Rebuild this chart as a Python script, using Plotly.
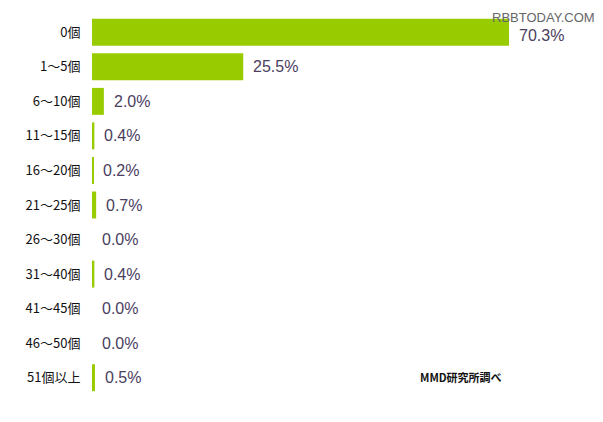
import plotly.graph_objects as go

categories = ["0個", "1～5個", "6～10個", "11～15個", "16～20個", "21～25個",
              "26～30個", "31～40個", "41～45個", "46～50個", "51個以上"]
values = [70.3, 25.5, 2.0, 0.4, 0.2, 0.7, 0.0, 0.4, 0.0, 0.0, 0.5]
value_labels = [f"{v:.1f}%" for v in values]

bar_color = "#99cc00"
label_color = "#4a4060"

OFF = 8  # default page body margin
W, H = 603 - OFF, 422 - OFF
plot_left, plot_right, plot_top, plot_bottom = 92, 593, 15, 395
L, R = plot_left - OFF, W - (plot_right - OFF)
T, B = plot_top - OFF, H - (plot_bottom - OFF)
pw, ph = plot_right - plot_left, plot_bottom - plot_top


def px(x):
    return (x - plot_left) / pw


def py(y):
    return (plot_bottom - y) / ph


fig = go.Figure()
fig.add_trace(go.Bar(
    y=categories, x=values, orientation="h",
    marker=dict(color=bar_color, line=dict(width=0)),
    width=0.78, showlegend=False, hoverinfo="skip",
))

for i, (c, v, t) in enumerate(zip(categories, values, value_labels)):
    fig.add_annotation(x=v, y=c, xref="x", yref="y", text=t, showarrow=False,
                       xanchor="left", yanchor="middle", xshift=8,
                       yshift=-3 if i == 0 else 0,
                       font=dict(family="Liberation Sans, Arial", size=16, color=label_color))

fig.add_annotation(xref="paper", yref="paper", x=px(597), y=py(8),
                   text="RBBTODAY.COM", showarrow=False, xanchor="right", yanchor="top",
                   font=dict(family="Liberation Sans, Arial", size=13, color="#666666"))

fig.add_annotation(xref="paper", yref="paper", x=px(418), y=py(377),
                   text="<b>MMD研究所調べ</b>", showarrow=False, xanchor="left", yanchor="middle",
                   font=dict(family="Noto Sans CJK JP", size=11, color="#111111"))

fig.update_layout(
    width=W, height=H,
    margin=dict(l=L, r=R, t=T, b=B, pad=0),
    paper_bgcolor="white", plot_bgcolor="white",
    xaxis=dict(range=[0, pw / (417 / 70.3)], visible=False, showgrid=False, zeroline=False,
               automargin=False),
    yaxis=dict(autorange="reversed", showgrid=False, zeroline=False, showline=False,
               automargin=False,
               ticks="outside", ticklen=8, tickcolor="rgba(0,0,0,0)",
               tickfont=dict(family="Noto Sans CJK JP", size=13, color="#111111")),
)

fig.write_html("out.html")
